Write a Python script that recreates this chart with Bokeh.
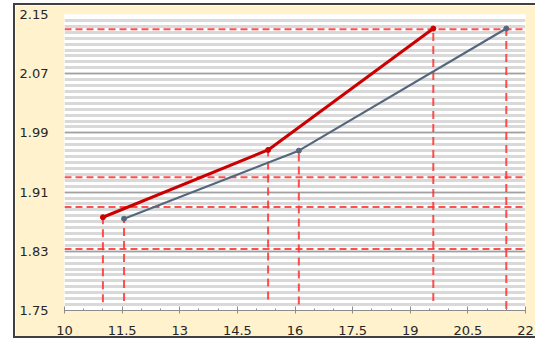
from bokeh.plotting import figure
from bokeh.models import FixedTicker, Range1d
from bokeh.embed import file_html
from bokeh.resources import INLINE

# ---- data ----
x_ticks = [10, 11.5, 13, 14.5, 16, 17.5, 19, 20.5, 22]
x_tick_labels = ["10", "11.5", "13", "14.5", "16", "17.5", "19", "20.5", "22"]
x_minor = [10, 10.5, 11, 11.5, 12, 12.5, 13, 13.5, 14, 14.5, 15, 15.5, 16, 16.5,
           17, 17.5, 18, 18.5, 19, 19.5, 20, 20.5, 21, 21.5, 22]
y_ticks = [1.75, 1.83, 1.91, 1.99, 2.07, 2.15]
y_tick_labels = ["1.75", "1.83", "1.91", "1.99", "2.07", "2.15"]
y_minor = [round(1.75 + 0.008 * i, 3) for i in range(51)]

red_x = [11.0, 15.3, 19.6]
red_y = [1.876, 1.967, 2.131]
blue_x = [11.55, 16.1, 21.5]
blue_y = [1.874, 1.966, 2.131]

h_dash_y = [2.13, 1.93, 1.89, 1.833]
v_dash_x = red_x + blue_x
v_dash_top = red_y + blue_y
v_dash_bottom = [1.761, 1.765, 1.763, 1.763, 1.758, 1.752]

BG = "#fff2cc"
TXT = "#262626"
FONT = "DejaVu Sans"

p = figure(width=522, height=335, x_range=Range1d(10, 22), y_range=Range1d(1.75, 2.15),
           output_backend="svg", toolbar_location=None,
           min_border_left=49, min_border_right=12, min_border_top=9, min_border_bottom=30,
           background_fill_color="white", border_fill_color=BG)
p.outline_line_color = None
p.styles = {"margin-left": "13px", "margin-top": "3px",
            "border-left": "2px solid #404040", "border-top": "2px solid #404040",
            "border-bottom": "2px solid #404040"}

# axes
p.xaxis.ticker = FixedTicker(ticks=x_ticks, minor_ticks=x_minor)
p.xaxis.major_label_overrides = {t: l for t, l in zip(x_ticks, x_tick_labels)}
p.yaxis.ticker = FixedTicker(ticks=y_ticks, minor_ticks=y_minor)
p.yaxis.major_label_overrides = {t: l for t, l in zip(y_ticks, y_tick_labels)}

for ax in (p.xaxis[0], p.yaxis[0]):
    ax.major_label_text_font = FONT
    ax.major_label_text_font_size = "13px"
    ax.major_label_text_color = TXT

p.xaxis.axis_line_color = "#8c8c8c"
p.xaxis.major_tick_line_color = "#8c8c8c"
p.xaxis.minor_tick_line_color = "#8c8c8c"
p.xaxis.major_tick_in = 4
p.xaxis.major_tick_out = 3
p.xaxis.minor_tick_in = 2
p.xaxis.minor_tick_out = 0
p.xaxis.major_label_standoff = 12

p.yaxis.axis_line_color = None
p.yaxis.major_tick_line_color = None
p.yaxis.minor_tick_line_color = None
p.yaxis.major_tick_in = 0
p.yaxis.major_tick_out = 0
p.yaxis.minor_tick_in = 0
p.yaxis.minor_tick_out = 0
p.yaxis.major_label_standoff = 16

# grids
p.xgrid.visible = False
p.ygrid.grid_line_color = "#a0a0a0"
p.ygrid.grid_line_width = 1.2
p.ygrid.minor_grid_line_color = "#d9d9d9"
p.ygrid.minor_grid_line_width = 3

# dashed guide lines
p.segment(x0=[10] * len(h_dash_y), x1=[22] * len(h_dash_y), y0=h_dash_y, y1=h_dash_y,
          line_color="#ff3030", line_width=2, line_dash="7 4", line_alpha=0.85)
p.segment(x0=v_dash_x, x1=v_dash_x, y0=v_dash_bottom, y1=v_dash_top,
          line_color="#ff3030", line_width=2, line_dash="8 5", line_alpha=0.85)

# series
p.line(blue_x, blue_y, line_color="#55677d", line_width=2.2)
p.scatter(blue_x, blue_y, size=5, fill_color="#55677d", line_color="#55677d")
p.line(red_x, red_y, line_color="#cc0000", line_width=3)
p.scatter(red_x, red_y, size=5, fill_color="#cc0000", line_color="#cc0000")

open("out.html", "w").write(file_html(p, INLINE))
